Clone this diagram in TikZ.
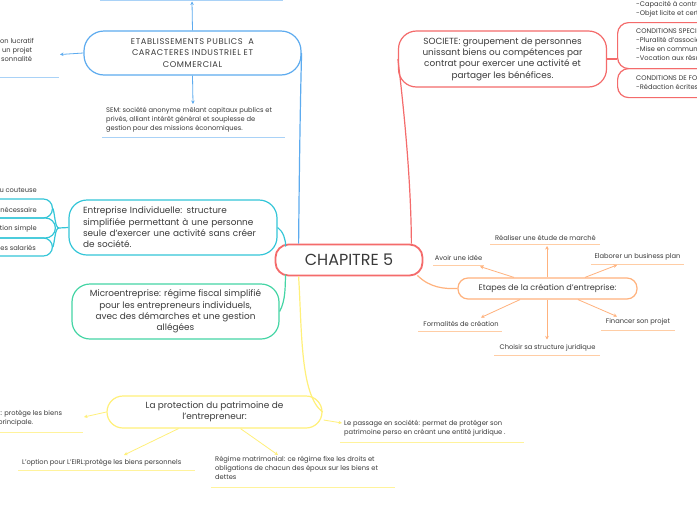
\documentclass[tikz,border=0pt]{standalone}
\usepackage{fontspec}
\setmainfont{Poppins}
\usetikzlibrary{arrows.meta,calc}
\definecolor{txt}{HTML}{3A3A3A}
\definecolor{cred}{HTML}{F46B6B}
\definecolor{cblue}{HTML}{5DABEF}
\definecolor{cbluel}{HTML}{A9D2F7}
\definecolor{cteal}{HTML}{34C6D8}
\definecolor{cgreen}{HTML}{45D5A5}
\definecolor{corange}{HTML}{FFB27D}
\definecolor{corangel}{HTML}{FFCDA5}
\definecolor{cyellow}{HTML}{FFF07A}
\definecolor{cyellowl}{HTML}{FFF39C}
\begin{document}
\begin{tikzpicture}[x=1pt,y=-1pt,
  every node/.style={text=txt, inner sep=0pt},
  big/.style={font=\fontsize{8.9}{11.3}\selectfont},
  sm/.style={font=\fontsize{6.7}{9}\selectfont, align=left},
  arr/.style={line width=0.8pt, -{Stealth[length=3.5pt,width=3.5pt]}},
  br/.style={line width=1.2pt},
  uline/.style={line width=1pt},
]
\useasboundingbox (0,0) rectangle (697,520);
\fill[white] (0,0) rectangle (697,520);
\clip (0,0) rectangle (697,520);

% ---------- central node ----------
\node[draw=cred, line width=1.8pt, rounded corners=13pt, minimum width=147pt, minimum height=31pt,
  font=\fontsize{16}{18}\selectfont] (ch) at (349,260) {CHAPITRE 5};

% ---------- ETABLISSEMENTS ----------
\node[draw=cblue, br, rounded corners=20pt, minimum width=217pt, minimum height=44pt, align=center,
  font=\fontsize{8.3}{11.5}\selectfont\addfontfeature{LetterSpace=7}] (eb) at (192.5,53)
  {ETABLISSEMENTS PUBLICS~~A\\CARACTERES INDUSTRIEL ET\\COMMERCIAL};
\draw[cblue, br] (eb.east) .. controls (300,110) and (299,200) .. ($(ch.north west)+(24,0)$);
\coordinate (ebtop) at (192,1.5);
\draw[cblue, arr] (eb.north) -- (ebtop);
\draw[cbluel, line width=1.5pt] (100,0.6) -- (283,0.6);
\node[sm, anchor=north west] (ebl) at (0,38.5) {on lucratif\\\hspace{2pt}un projet\\\hspace{1pt}sonnalité};
\coordinate (eblt) at (60,54.5);
\draw[cblue, arr] (eb.west) -- (eblt);
\draw[cbluel, uline] (0,77) -- (59,77);
\coordinate (semt) at (193,104);
\draw[cblue, arr] (eb.south) -- (semt);
\node[sm, anchor=north west] (sem) at (106,107.5)
  {SEM: société anonyme mêlant capitaux publics et\\privés, alliant intérêt général et souplesse de\\gestion pour des missions économiques.};
\draw[cbluel, uline] (102,137) -- (285,137);

% ---------- SOCIETE ----------
\node[draw=cred, br, rounded corners=18pt, minimum width=208pt, minimum height=56pt, align=center, big] (so) at (502.5,59)
  {SOCIETE: groupement de personnes\\unissant biens ou compétences par\\contrat pour exercer une activité et\\partager les bénéfices.};
\draw[cred, br] (so.west) .. controls (404,110) and (411,180) .. ($(ch.north east)+(-12,0)$);
\node[draw=cred, br, rounded corners=11pt, minimum width=110pt, minimum height=46pt, anchor=north west] (r2) at (617,22) {};
\node[draw=cred, br, rounded corners=11pt, minimum width=110pt, minimum height=29pt, anchor=north west] (r3) at (617,68) {};
\draw[cred, br] (so.east) -- (so.east -| r2.west);
\node[sm, anchor=north west] (r1t) at (636,1) {-Capacité à contracter\\-Objet licite et certain};
\node[sm, anchor=north west] (r2t) at (636,28.5) {CONDITIONS SPECIFIQUES\\-Pluralité d’associés\\-Mise en commun d’apports\\-Vocation aux résultats};
\node[sm, anchor=north west] (r3t) at (636,75.5) {CONDITIONS DE FORME\\-Rédaction écrites des statuts};

% ---------- Entreprise Individuelle ----------
\node[draw=cteal, br, rounded corners=18pt, minimum width=208pt, minimum height=55pt, align=left, text width=180pt, big] (ei) at (173,227.5)
  {Entreprise Individuelle: structure\\simplifiée permettant à une personne\\seule d’exercer une activité sans créer\\de société.};
\draw[cteal, br] (ei.east) .. controls (283,231) and (286,240) .. ($(ch.north west)+(11,3)$);
\node[draw=cteal, br, rounded corners=9pt, minimum width=80pt, minimum height=19pt, anchor=east] (lb) at (53,208.5) {};
\node[draw=cteal, br, rounded corners=10pt, minimum width=80pt, minimum height=20pt, anchor=east] (lc) at (56,228) {};
\node[draw=cteal, br, rounded corners=9pt, minimum width=80pt, minimum height=18pt, anchor=east] (ld) at (53,247) {};
\coordinate (lj) at (59,228);
\draw[cteal, br] (ei.west) -- (lj);
\draw[cteal, br] (lj) .. controls (55,228) and (55,215) .. (lb.east);
\draw[cteal, br] (lj) .. controls (55,228) and (55,240) .. (ld.east);
\node[sm, anchor=east] (la) at (37,191) {peu couteuse};
\node[sm, anchor=east] (lbt) at (37,209.5) {nécessaire};
\node[sm, anchor=east] (lct) at (37,229) {gestion simple};
\node[sm, anchor=east] (ldt) at (36,247.5) {des salariés};

% ---------- Microentreprise ----------
\node[draw=cgreen, br, rounded corners=18pt, minimum width=207pt, minimum height=55pt, align=center, big] (mi) at (175.5,311.5)
  {Microentreprise: régime fiscal simplifié\\pour les entrepreneurs individuels,\\avec des démarches et une gestion\\allégées};
\draw[cgreen, br] (mi.east) .. controls (286,300) and (285,285) .. ($(ch.south west)+(11,-2)$);

% ---------- Etapes ----------
\node[draw=corange, br, rounded corners=10pt, minimum width=179pt, minimum height=21pt,
  font=\fontsize{8.1}{10}\selectfont] (ep) at (547.5,288.5) {Etapes de la création d’entreprise:};
\draw[corange, br] ($(ch.south east)+(-6,-1)$) .. controls (430,288) and (445,289) .. (ep.west);
\tikzset{es/.style={font=\fontsize{6.7}{8}\selectfont}}
\node[es] (e1) at (458.5,258) {Avoir une idée};
\draw[corangel, uline] (433,265) -- (484,265);
\node[es] (e2) at (545.5,237.5) {Réaliser une étude de marché};
\draw[corangel, uline] (490,244.5) -- (600,244.5);
\node[es] (e3) at (637.5,257) {Elaborer un business plan};
\draw[corangel, uline] (591,264) -- (684,264);
\node[es] (e4) at (461,324) {Formalités de création};
\draw[corangel, uline] (418,331) -- (502,331);
\node[es] (e5) at (547.5,347.5) {Choisir sa structure juridique};
\draw[corangel, uline] (494,355) -- (600,355);
\node[es] (e6) at (638,322) {Financer son projet};
\draw[corangel, uline] (601,330) -- (675,330);
\coordinate (t1) at (480,266.5);
\coordinate (t2) at (547,246);
\coordinate (t3) at (617,265);
\coordinate (t4) at (481,317.5);
\coordinate (t5) at (547,339.5);
\coordinate (t6) at (617,316.5);
\draw[corange, arr] ($(ep.north)+(-33.5,0)$) -- (t1);
\draw[corange, arr] ($(ep.north)+(-0.5,0)$) -- (t2);
\draw[corange, arr] ($(ep.north)+(37.5,0)$) -- (t3);
\draw[corange, arr] ($(ep.south)+(-27.5,0)$) -- (t4);
\draw[corange, arr] ($(ep.south)+(-0.5,0)$) -- (t5);
\draw[corange, arr] ($(ep.south)+(30.5,0)$) -- (t6);

% ---------- Protection ----------
\node[draw=cyellow, br, rounded corners=16pt, minimum width=215pt, minimum height=32pt, align=center, big] (pr) at (214.5,412)
  {La protection du patrimoine de\\l’entrepreneur:};
\draw[cyellow, br] ($(ch.south west)+(24,0)$) .. controls (302,330) and (300,395) .. (pr.east);
\node[sm, anchor=north west] (p1) at (-2,410.5) {t: protège les biens\\principale.};
\draw[cyellowl, uline] (0,432) -- (83,432);
\coordinate (p1t) at (84,417);
\draw[cyellow, arr] (pr.west) -- (p1t);
\node[sm, anchor=west] (p2) at (22,462.5) {L’option pour L’EIRL:protège les biens personnels};
\draw[cyellowl, uline] (18,470) -- (195,470);
\coordinate (p2t) at (124,455);
\draw[cyellow, arr] ($(pr.south)+(-36,0)$) -- (p2t);
\node[sm, anchor=north west] (p3) at (215,456.5)
  {Régime matrimonial: ce régime fixe les droits et\\obligations de chacun des époux sur les biens et\\dettes};
\draw[cyellowl, uline] (211,487) -- (395,487);
\coordinate (p3t) at (278,455);
\draw[cyellow, arr] ($(pr.south)+(26,0)$) -- (p3t);
\node[sm, anchor=north west] (p4) at (344,420.5)
  {Le passage en société: permet de protéger son\\patrimoine perso en créant une entité juridique .};
\draw[cyellowl, uline] (340,442) -- (524,442);
\coordinate (p4t) at (342,423);
\draw[cyellow, arr] ($(pr.east)+(1,8)$) -- (p4t);
\end{tikzpicture}
\end{document}
